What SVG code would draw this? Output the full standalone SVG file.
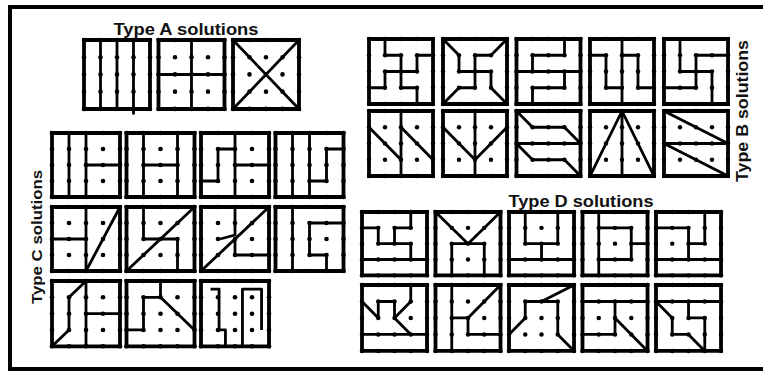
<svg xmlns="http://www.w3.org/2000/svg" width="763" height="371" viewBox="0 0 763 371">
<style>
.bd{fill:#fff;stroke:#000;stroke-width:3.8;vector-effect:non-scaling-stroke}
.ln{fill:none;stroke:#000;stroke-width:2.8;stroke-linejoin:round;vector-effect:non-scaling-stroke}
.dt{fill:#000}
.t{font-family:"Liberation Sans",Arial,sans-serif;font-weight:bold;fill:#111;text-anchor:middle}
</style>
<defs>
<g id="sq">
<rect class="bd" x="0" y="0" width="64" height="64"/>
<g class="dt">
<circle cx="0" cy="0" r="2.2"/><circle cx="16" cy="0" r="2.2"/><circle cx="32" cy="0" r="2.2"/><circle cx="48" cy="0" r="2.2"/><circle cx="64" cy="0" r="2.2"/>
<circle cx="0" cy="16" r="2.2"/><circle cx="16" cy="16" r="2.2"/><circle cx="32" cy="16" r="2.2"/><circle cx="48" cy="16" r="2.2"/><circle cx="64" cy="16" r="2.2"/>
<circle cx="0" cy="32" r="2.2"/><circle cx="16" cy="32" r="2.2"/><circle cx="32" cy="32" r="2.2"/><circle cx="48" cy="32" r="2.2"/><circle cx="64" cy="32" r="2.2"/>
<circle cx="0" cy="48" r="2.2"/><circle cx="16" cy="48" r="2.2"/><circle cx="32" cy="48" r="2.2"/><circle cx="48" cy="48" r="2.2"/><circle cx="64" cy="48" r="2.2"/>
<circle cx="0" cy="64" r="2.2"/><circle cx="16" cy="64" r="2.2"/><circle cx="32" cy="64" r="2.2"/><circle cx="48" cy="64" r="2.2"/><circle cx="64" cy="64" r="2.2"/>
</g>
</g>
</defs>
<rect x="10" y="7" width="760" height="362" fill="none" stroke="#000" stroke-width="4"/>
<g id="labels">
<text class="t" x="186" y="35" font-size="17" textLength="145" lengthAdjust="spacingAndGlyphs">Type A solutions</text>
<text class="t" x="581" y="207" font-size="16" textLength="145" lengthAdjust="spacingAndGlyphs">Type D solutions</text>
<text class="t" transform="translate(748,111) rotate(-90)" font-size="16" textLength="142" lengthAdjust="spacingAndGlyphs">Type B solutions</text>
<text class="t" transform="translate(42,237) rotate(-90)" font-size="15" textLength="134" lengthAdjust="spacingAndGlyphs">Type C solutions</text>
</g>
<g id="A1" transform="translate(84,40) scale(1.031,1.078)"><use href="#sq"/><path class="ln" d="M16,0V64M32,0V64M48,0V69"/></g>
<g id="A2" transform="translate(158.5,40) scale(1.031,1.078)"><use href="#sq"/><path class="ln" d="M32,0V64M0,32H64"/></g>
<g id="A3" transform="translate(233,40) scale(1.031,1.078)"><use href="#sq"/><path class="ln" d="M0,0L64,64M64,0L0,64"/></g>
<g id="B1" transform="translate(369,39) scale(1,1.016)"><use href="#sq"/><path class="ln" d="M16,0V16H32V32M64,16H48V32H32M48,64V48H32V32M0,48H16V32H32"/></g>
<g id="B2" transform="translate(443,39) scale(1,1.016)"><use href="#sq"/><path class="ln" d="M0,0L16,16V32H32M64,0L48,16H32V32M64,64L48,48V32H32M0,64L16,48H32V32"/></g>
<g id="B3" transform="translate(516.5,39) scale(1,1.016)"><use href="#sq"/><path class="ln" d="M48,0V16H16V32M0,32H64M48,32V48H16V64"/></g>
<g id="B4" transform="translate(590,39) scale(1,1.016)"><use href="#sq"/><path class="ln" d="M0,16H16V48H32M32,0V64M32,16H48V48H64"/></g>
<g id="B5" transform="translate(664,39) scale(1,1.016)"><use href="#sq"/><path class="ln" d="M16,0V32H32M64,16H32V32M48,64V32H32M0,48H32V32"/></g>
<g id="B6" transform="translate(369,111) scale(1,1.016)"><use href="#sq"/><path class="ln" d="M32,0V64M0,16L32,48M32,16L64,48"/></g>
<g id="B7" transform="translate(443,111) scale(1,1.016)"><use href="#sq"/><path class="ln" d="M32,0V64M0,16L32,48L64,16"/></g>
<g id="B8" transform="translate(516.5,111) scale(1,1.016)"><use href="#sq"/><path class="ln" d="M0,0L16,16H48L64,32M0,32H64M0,32L16,48H48L64,64"/></g>
<g id="B9" transform="translate(590,111) scale(1,1.016)"><use href="#sq"/><path class="ln" d="M0,64L32,0L64,64M32,0V64"/></g>
<g id="B10" transform="translate(664,111) scale(1,1.016)"><use href="#sq"/><path class="ln" d="M0,0L64,32M0,32H64M0,32L64,64"/></g>
<g id="C1" transform="translate(52,133) scale(1.0625,1.0)"><use href="#sq"/><path class="ln" d="M16,0V64M32,0V64M32,32H64"/></g>
<g id="C2" transform="translate(126.5,133) scale(1.0625,1.0)"><use href="#sq"/><path class="ln" d="M16,0V64M48,0V64M16,32H48"/></g>
<g id="C3" transform="translate(201,133) scale(1.0625,1.0)"><use href="#sq"/><path class="ln" d="M32,0V64M32,16H16V48H0M32,32H64"/></g>
<g id="C4" transform="translate(275.5,133) scale(1.0625,1.0)"><use href="#sq"/><path class="ln" d="M16,0V64M32,0V64M64,16H48V48H32"/></g>
<g id="C5" transform="translate(52,207) scale(1.0625,1.0)"><use href="#sq"/><path class="ln" d="M32,0V64M0,32H32M32,64L64,0"/></g>
<g id="C6" transform="translate(126.5,207) scale(1.0625,1.0)"><use href="#sq"/><path class="ln" d="M0,64L64,0M16,0V32H32M48,64V32H32"/></g>
<g id="C7" transform="translate(201,207) scale(1.0625,1.0)"><use href="#sq"/><path class="ln" d="M0,64L64,0M32,0V28L18,32M32,32V48H64"/></g>
<g id="C8" transform="translate(275.5,207) scale(1.0625,1.0)"><use href="#sq"/><path class="ln" d="M16,0V64M64,16H32V48H48V64"/></g>
<g id="C9" transform="translate(52,281) scale(1.0625,1.02)"><use href="#sq"/><path class="ln" d="M32,0L16,16V48L0,64M32,0V64M32,32H64"/></g>
<g id="C10" transform="translate(126.5,281) scale(1.0625,1.02)"><use href="#sq"/><path class="ln" d="M32,0V16H16V48H0M32,16L64,48"/></g>
<g id="C11" transform="translate(201,281) scale(1.0625,1.02)"><use href="#sq"/><path class="ln" d="M9,8H17V48H23V64M39,64V8H57V48"/></g>
<g id="D1" transform="translate(362,212) scale(1.016,0.99)"><use href="#sq"/><path class="ln" d="M0,48H64M0,16H16V32H48V48M48,0V16H32V32"/></g>
<g id="D2" transform="translate(435.5,212) scale(1.016,0.99)"><use href="#sq"/><path class="ln" d="M0,0L32,32L64,0M16,64V32H48V64"/></g>
<g id="D3" transform="translate(509,212) scale(1.016,0.99)"><use href="#sq"/><path class="ln" d="M0,48H64M16,0V32H48M48,0V32M32,32V48"/></g>
<g id="D4" transform="translate(582.5,212) scale(1.016,0.99)"><use href="#sq"/><path class="ln" d="M16,0V64M16,16H48V48H16M48,32H64"/></g>
<g id="D5" transform="translate(656,212) scale(1.016,0.99)"><use href="#sq"/><path class="ln" d="M0,48H64M0,16H32V48M48,0V32H32"/></g>
<g id="D6" transform="translate(362,285) scale(1.016,1.03)"><use href="#sq"/><path class="ln" d="M0,48H64M0,16L16,32V16H32V32L48,48M48,0V16L32,32"/></g>
<g id="D7" transform="translate(435.5,285) scale(1.016,1.03)"><use href="#sq"/><path class="ln" d="M16,0V64M64,0L32,32H16M32,32V48H64"/></g>
<g id="D8" transform="translate(509,285) scale(1.016,1.03)"><use href="#sq"/><path class="ln" d="M64,0L32,16H16V32L0,48M32,16H48V48L64,64"/></g>
<g id="D9" transform="translate(582.5,285) scale(1.016,1.03)"><use href="#sq"/><path class="ln" d="M0,16H64M32,16V48H0M32,32L64,64"/></g>
<g id="D10" transform="translate(656,285) scale(1.016,1.03)"><use href="#sq"/><path class="ln" d="M0,16H64M0,16L16,32V48H32L48,64M32,16V32H48V64"/></g>
</svg>
